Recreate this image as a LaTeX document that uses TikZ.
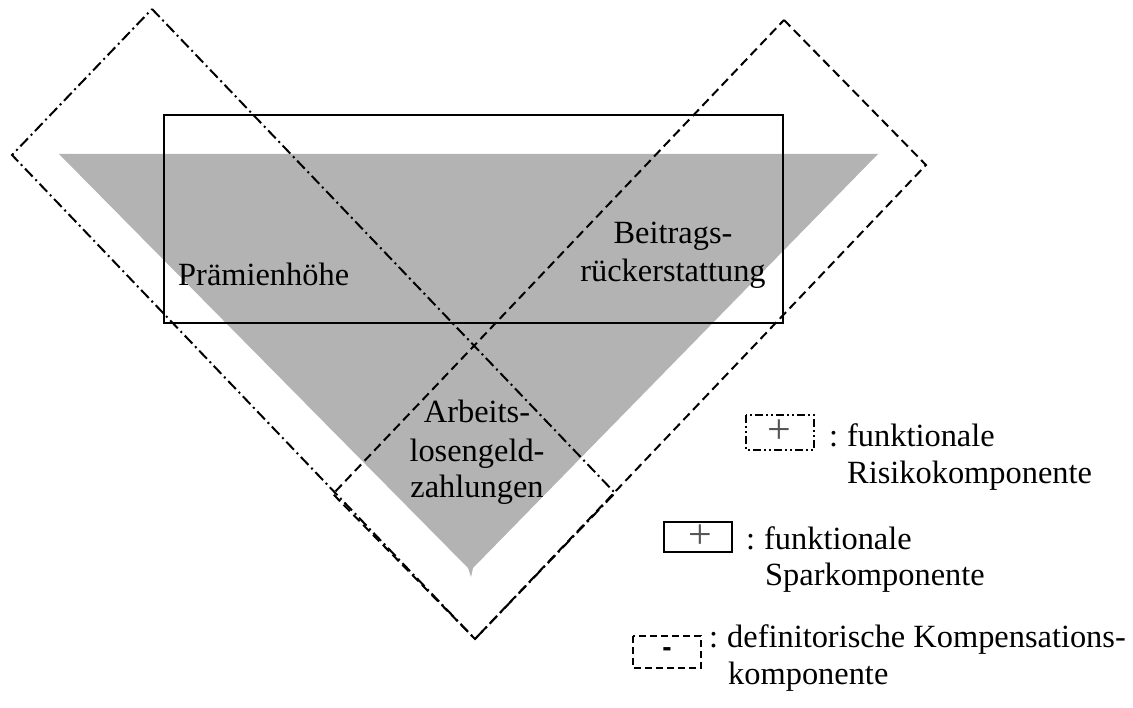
\documentclass[tikz,border=0pt]{standalone}
\usepackage{fontspec}
\setmainfont{Liberation Serif}
\setsansfont{Liberation Sans}
\definecolor{tri}{HTML}{B3B3B3}
\definecolor{plusgray}{HTML}{555555}
\begin{document}
\begin{tikzpicture}[x=1pt,y=-1pt,
  dashdot/.style={line width=2pt, dash pattern=on 11pt off 4pt on 2pt off 4pt},
  dashline/.style={line width=2pt, dash pattern=on 9pt off 5pt},
  solidline/.style={line width=2pt},
  txt/.style={inner sep=0pt, font=\fontsize{32.4}{37}\selectfont},
  sym/.style={inner sep=0pt, font=\fontsize{42}{42}\selectfont, text=plusgray}
]
\useasboundingbox (0,0) rectangle (1133,708);
% gray triangle
\fill[tri] (59,154) -- (878,154) -- (473,568) -- (471,577) -- (468,568) -- cycle;
% solid rectangle
\draw[solidline] (164,115) rectangle (783,323);
% dash-dot rotated rectangle
\draw[dashdot] (152,9) -- (615,493) -- (475,639) -- (12,155) -- cycle;
% dashed rotated rectangle
\draw[dashline] (784,20) -- (926,165) -- (475,639) -- (333,494) -- cycle;
% labels
\node[txt, anchor=base west] (praem) at (178,286) {Prämienhöhe};
\node[txt, anchor=base] (beit1) at (673,244) {Beitrags-};
\node[txt, anchor=base] (beit2) at (673,282) {rückerstattung};
\node[txt, anchor=base] (arb1) at (477,423) {Arbeits-};
\node[txt, anchor=base] (arb2) at (477,461) {losengeld-};
\node[txt, anchor=base] (arb3) at (477,497) {zahlungen};
% legend 1
\draw[dashdot, dash pattern=on 8pt off 3pt on 2pt off 3pt on 2pt off 3pt] (746,415) rectangle (814,450);
\node[sym] (p1) at (779,432) {+};
\node[txt, anchor=base west] (l1a) at (829,447) {:\hspace{9pt}funktionale};
\node[txt, anchor=base west] (l1b) at (847,484) {Risikokomponente};
% legend 2
\draw[solidline] (664,522) rectangle (732,552);
\node[sym] (p2) at (700,537) {+};
\node[txt, anchor=base west] (l2a) at (746,549) {:\hspace{9pt}funktionale};
\node[txt, anchor=base west] (l2b) at (765,585) {Sparkomponente};
% legend 3
\draw[dashline, dash pattern=on 7pt off 4pt] (633,636) rectangle (701,668);
\node[inner sep=0pt, font=\sffamily\bfseries\fontsize{28}{28}\selectfont] (m3) at (667,652) {-};
\node[txt, anchor=base west] (l3a) at (709,647) {:\hspace{9pt}definitorische Kompensations-};
\node[txt, anchor=base west] (l3b) at (728,684) {komponente};
\end{tikzpicture}
\end{document}
